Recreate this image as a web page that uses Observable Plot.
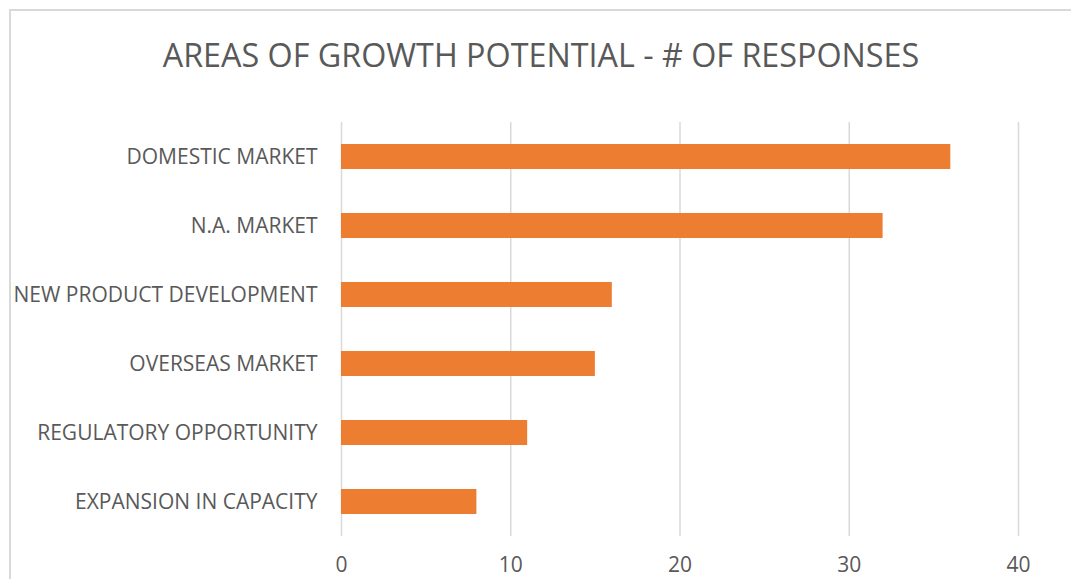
<!DOCTYPE html>
<html>
<head>
<meta charset="utf-8">
<script src="https://cdn.jsdelivr.net/npm/d3@7"></script>
<script src="https://cdn.jsdelivr.net/npm/@observablehq/plot@0.6"></script>
<style>
  html, body { margin: 0; padding: 0; background: #fff; overflow: hidden; }
  #frame { position: absolute; left: 9px; top: 9px; width: 1090px; height: 620px; border: 2px solid #d9d9d9; box-sizing: border-box; }
  #wrap { position: relative; width: 1071px; height: 579px; }
  #title { position: absolute; left: 0; top: 0; width: 1082px; height: 102px; text-align: center; font-family: "Open Sans", sans-serif; font-size: 32.3px; color: #595959; line-height: 108px; }
  #chart { position: absolute; left: 0; top: 102px; }
</style>
</head>
<body>
<div id="wrap">
  <div id="frame"></div>
  <div id="title">AREAS OF GROWTH POTENTIAL - # OF RESPONSES</div>
  <div id="chart"></div>
</div>
<script>
const categories = ["DOMESTIC MARKET", "N.A. MARKET", "NEW PRODUCT DEVELOPMENT", "OVERSEAS MARKET", "REGULATORY OPPORTUNITY", "EXPANSION IN CAPACITY"];
const responses = [36, 32, 16, 15, 11, 8];
const xTicks = [0, 10, 20, 30, 40];

const data = categories.map((c, i) => ({category: c, value: responses[i]}));

const chart = Plot.plot({
  width: 1071,
  height: 477,
  marginTop: 20,
  marginBottom: 43,
  marginLeft: 341,
  marginRight: 53,
  style: {fontFamily: "Open Sans, sans-serif", color: "#595959", background: "transparent"},
  x: {domain: [0, 40], ticks: xTicks},
  y: {domain: categories, paddingInner: 0.638, paddingOuter: 0.319, label: null},
  marks: [
    Plot.gridX(xTicks, {stroke: "#d9d9d9", strokeOpacity: 1, strokeWidth: 1.5}),
    Plot.barX(data, {x: "value", y: "category", fill: "#ED7D31"}),
    Plot.axisX({ticks: xTicks, tickSize: 0, tickPadding: 21, label: null, fontSize: 21, fill: "#595959"}),
    Plot.axisY({tickSize: 0, tickPadding: 24, label: null, fontSize: 21, fill: "#595959"})
  ]
});
document.getElementById("chart").appendChild(chart);
</script>
</body>
</html>
